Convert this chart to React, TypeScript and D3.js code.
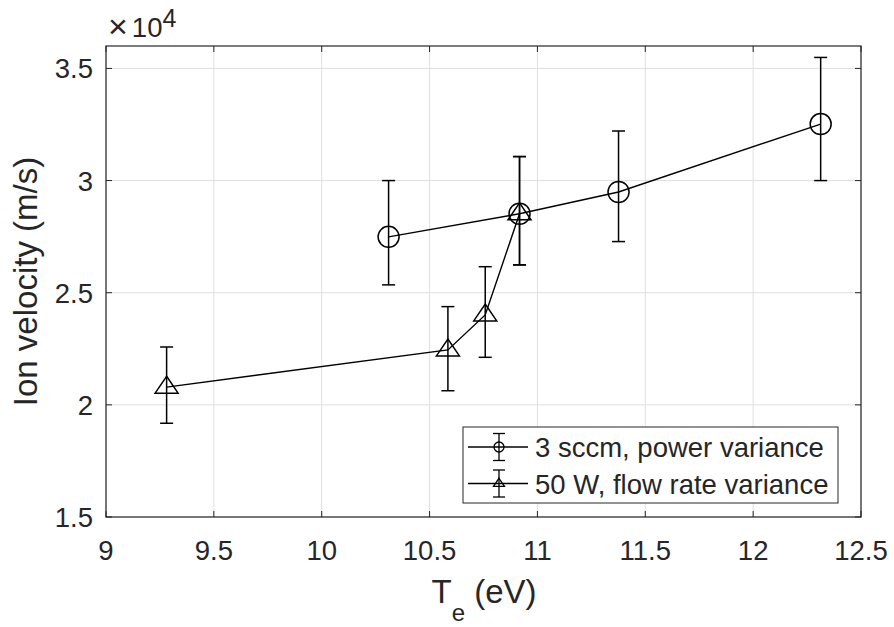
import React from "react";
import * as d3 from "d3";

const xTicks = [9, 9.5, 10, 10.5, 11, 11.5, 12, 12.5];
const yTicks = [1.5, 2, 2.5, 3, 3.5];

// Series 1: 3 sccm, power variance (values ×10^4 m/s)
const powerTe = [10.31, 10.917, 11.376, 12.313];
const powerV = [2.749, 2.852, 2.949, 3.252];
const powerLow = [2.535, 2.624, 2.728, 3.0];
const powerHigh = [3.0, 3.107, 3.221, 3.549];

// Series 2: 50 W, flow rate variance
const flowTe = [9.281, 10.585, 10.758, 10.917];
const flowV = [2.079, 2.245, 2.401, 2.852];
const flowLow = [1.918, 2.063, 2.212, 2.624];
const flowHigh = [2.258, 2.438, 2.616, 3.107];

const legendLabels = ["3 sccm, power variance", "50 W, flow rate variance"];

const W = 894;
const H = 627;
const L = 106, R = 861, T = 46, B = 517;
const AX = "#262626";
const GRID = "#dfdfdf";
const FONT = "'Liberation Sans', Arial, Helvetica, sans-serif";

export default function App() {
  const x = d3.scaleLinear().domain([9, 12.5]).range([L, R]);
  const y = d3.scaleLinear().domain([1.5, 3.6]).range([B, T]);
  const line = d3.line<[number, number]>().x((d) => x(d[0])).y((d) => y(d[1]));

  const series = [
    { te: powerTe, v: powerV, lo: powerLow, hi: powerHigh, marker: "circle" },
    { te: flowTe, v: flowV, lo: flowLow, hi: flowHigh, marker: "triangle" },
  ];

  const tri = (cx: number, cy: number, s: number) => {
    const h = s * 0.95;
    return `M${cx},${cy - h} L${cx + s},${cy + h * 0.55} L${cx - s},${cy + h * 0.55} Z`;
  };

  const cap = 6.5;
  const tickLen = 6;

  return (
    <svg
      width={W}
      height={H}
      style={{ position: "absolute", left: 0, top: 0, background: "#fff" }}
      fontFamily={FONT}
    >
      <rect x={0} y={0} width={W} height={H} fill="#fff" />
      {/* grid */}
      {xTicks.map((t) => (
        <line key={"gx" + t} x1={x(t)} x2={x(t)} y1={T} y2={B} stroke={GRID} strokeWidth={1} />
      ))}
      {yTicks.map((t) => (
        <line key={"gy" + t} x1={L} x2={R} y1={y(t)} y2={y(t)} stroke={GRID} strokeWidth={1} />
      ))}
      {/* ticks */}
      {xTicks.map((t) => (
        <g key={"tx" + t}>
          <line x1={x(t)} x2={x(t)} y1={B} y2={B - tickLen} stroke={AX} strokeWidth={1} />
          <line x1={x(t)} x2={x(t)} y1={T} y2={T + tickLen} stroke={AX} strokeWidth={1} />
          <text x={x(t)} y={560} textAnchor="middle" fontSize={27.5} fill={AX}>
            {t}
          </text>
        </g>
      ))}
      {yTicks.map((t) => (
        <g key={"ty" + t}>
          <line x1={L} x2={L + tickLen} y1={y(t)} y2={y(t)} stroke={AX} strokeWidth={1} />
          <line x1={R} x2={R - tickLen} y1={y(t)} y2={y(t)} stroke={AX} strokeWidth={1} />
          <text x={93} y={y(t) + 10} textAnchor="end" fontSize={27.5} fill={AX}>
            {t}
          </text>
        </g>
      ))}
      {/* exponent */}
      <text x={108} y={38} fontSize={34} fill={AX}>
        ×
        <tspan dx={4} dy={-1} fontSize={27.5}>10</tspan>
        <tspan dy={-10} fontSize={25}>
          4
        </tspan>
      </text>
      {/* data */}
      {series.map((s, si) => {
        const pts = s.te.map((t, i) => [t, s.v[i]] as [number, number]);
        return (
          <g key={"s" + si}>
            <path d={line(pts) || ""} fill="none" stroke="#000" strokeWidth={1.4} />
            {s.te.map((t, i) => (
              <g key={i} stroke="#000" strokeWidth={1.5} fill="none">
                <line x1={x(t)} x2={x(t)} y1={y(s.lo[i])} y2={y(s.hi[i])} />
                <line x1={x(t) - cap} x2={x(t) + cap} y1={y(s.lo[i])} y2={y(s.lo[i])} />
                <line x1={x(t) - cap} x2={x(t) + cap} y1={y(s.hi[i])} y2={y(s.hi[i])} />
                {s.marker === "circle" ? (
                  <circle cx={x(t)} cy={y(s.v[i])} r={10.5} />
                ) : (
                  <path d={tri(x(t), y(s.v[i]), 11.5)} />
                )}
              </g>
            ))}
          </g>
        );
      })}
      {/* axes box */}
      <rect x={L} y={T} width={R - L} height={B - T} fill="none" stroke={AX} strokeWidth={1.2} />
      {/* legend */}
      <g>
        <rect x={463} y={427} width={375} height={76} fill="#fff" stroke={AX} strokeWidth={1} />
        {legendLabels.map((lab, i) => {
          const cy = 447 + i * 36.5;
          const mx = 499;
          return (
            <g key={lab}>
              <g stroke="#000" strokeWidth={1.3} fill="none">
                <line x1={468} x2={528} y1={cy} y2={cy} />
                <line x1={mx} x2={mx} y1={cy - 13.5} y2={cy + 13.5} />
                <line x1={mx - 6} x2={mx + 6} y1={cy - 13.5} y2={cy - 13.5} />
                <line x1={mx - 6} x2={mx + 6} y1={cy + 13.5} y2={cy + 13.5} />
                {i === 0 ? <circle cx={mx} cy={cy} r={5} /> : <path d={tri(mx, cy, 5.5)} />}
              </g>
              <text x={535} y={cy + 10} fontSize={27.5} fill={AX}>
                {lab}
              </text>
            </g>
          );
        })}
      </g>
      {/* axis labels */}
      <text
        transform={`translate(37, ${(T + B) / 2}) rotate(-90)`}
        textAnchor="middle"
        fontSize={33}
        fill={AX}
      >
        Ion velocity (m/s)
      </text>
      <text x={484} y={603} textAnchor="middle" fontSize={33} fill={AX}>
        T
        <tspan dy={18} fontSize={24}>
          e
        </tspan>
        <tspan dy={-18}> (eV)</tspan>
      </text>
    </svg>
  );
}
